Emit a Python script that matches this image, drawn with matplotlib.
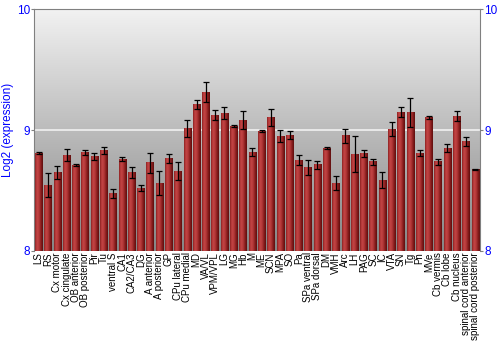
import matplotlib.pyplot as plt
import numpy as np
from matplotlib.colors import LinearSegmentedColormap

# Regions
regions = ["LS", "RS", "Cx motor", "Cx cingulate", "OB anterior", "OB posterior",
           "Pir", "Tu", "ventral S", "CA1", "CA2/CA3", "DG", "A anterior",
           "A posterior", "GP", "CPu lateral", "CPu medial", "MD", "VA/VL",
           "VPM/VPL", "LG", "MG", "Hb", "M", "ME", "SCN", "MPA", "SO", "Pa",
           "SPa ventral", "SPa dorsal", "DM", "VMH", "Arc", "LH", "PAG", "SC",
           "IC", "VTA", "SN", "Tg", "Pn", "MVe", "Cb vermis", "Cb lobe",
           "Cb nucleus", "spinal cord anterior", "spinal cord posterior"]

# Log2 expression and error
expr = [8.81, 8.545, 8.647, 8.79, 8.71, 8.815, 8.783, 8.832, 8.479, 8.758,
        8.65, 8.52, 8.73, 8.562, 8.766, 8.661, 9.011, 9.209, 9.311, 9.124,
        9.14, 9.033, 9.083, 8.818, 8.992, 9.105, 8.95, 8.956, 8.752, 8.689,
        8.713, 8.851, 8.562, 8.953, 8.802, 8.804, 8.736, 8.587, 9.008, 9.149,
        9.146, 8.807, 9.105, 8.736, 8.851, 9.116, 8.903, 8.675]
err = [0.01, 0.10, 0.056, 0.05, 0.01, 0.02, 0.028, 0.03, 0.037, 0.015,
       0.047, 0.028, 0.084, 0.096, 0.035, 0.074, 0.069, 0.036, 0.083, 0.04,
       0.05, 0.012, 0.077, 0.033, 0.012, 0.069, 0.05, 0.032, 0.041, 0.065,
       0.033, 0.011, 0.058, 0.058, 0.147, 0.03, 0.028, 0.063, 0.056, 0.043,
       0.118, 0.025, 0.012, 0.025, 0.033, 0.039, 0.039, 0.005]

ymin, ymax = 8, 10
blue = "#0000ff"

fig = plt.figure(figsize=(5, 3.5), dpi=100)
ax = fig.add_axes([0.068, 0.283, 0.892, 0.691])
n = len(regions)
ax.set_xlim(-0.5, n - 0.5)
ax.set_ylim(ymin, ymax)

# background gradient
bg = LinearSegmentedColormap.from_list("bg", ["#858585", "#f2f2f2"])
grad = np.linspace(0, 1, 256).reshape(-1, 1)
ax.imshow(grad, cmap=bg, extent=[-0.5, n - 0.5, ymin, ymax], origin="lower",
          aspect="auto", zorder=0)
ax.axhline(9, color="#f0f0f0", lw=1.2, zorder=1)

# bars with horizontal shading
barcm = LinearSegmentedColormap.from_list(
    "bar", ["#8c2222", "#c44444", "#b53a3a", "#8a1e1e", "#5e0e0e"])
hgrad = np.linspace(0, 1, 64).reshape(1, -1)
w = 0.8
for i, v in enumerate(expr):
    ax.imshow(hgrad, cmap=barcm, extent=[i - w / 2, i + w / 2, ymin, v],
              aspect="auto", zorder=2)
ax.errorbar(range(n), expr, yerr=err, fmt="none", ecolor="black",
            elinewidth=0.9, capsize=2, capthick=0.9, zorder=3)

ax.set_xticks(range(n))
ax.set_xticklabels(regions, rotation=90, fontsize=7, family="Liberation Sans")
ax.tick_params(axis="x", length=0, pad=1)

ax.set_yticks([8, 9, 10])
ax.tick_params(axis="y", colors="#808080", labelcolor=blue, labelsize=8.5,
               length=2, pad=1, left=True, right=True, labelright=True)
for lab in ax.get_yticklabels():
    lab.set_family("Liberation Sans")
ax.set_ylabel("Log2 (expression)", color=blue, fontsize=8.5,
              family="Liberation Sans", labelpad=2)

for s in ["left", "right", "top"]:
    ax.spines[s].set_color("#808080")
ax.spines["bottom"].set_visible(False)

fig.savefig("out.png", dpi=100)
